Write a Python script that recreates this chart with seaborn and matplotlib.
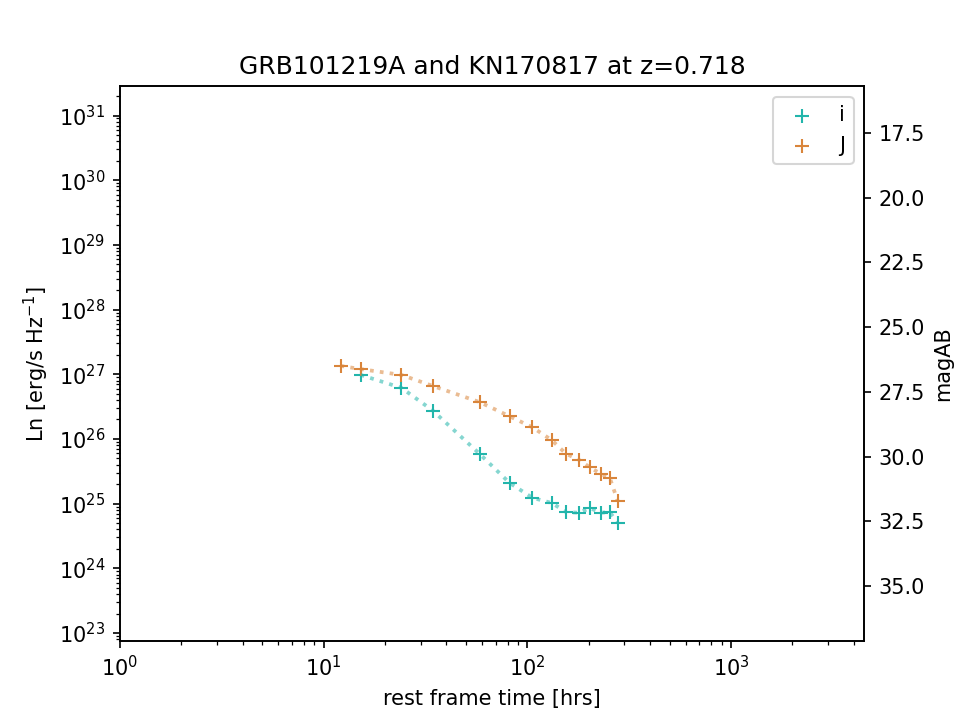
import numpy as np
import pandas as pd
import matplotlib
matplotlib.use("Agg")
import matplotlib.pyplot as plt
import seaborn as sns

# rest frame times [hrs] and luminosities
t_i = [15.2, 24.1, 34.3, 58.3, 81.9, 106, 132, 155, 179, 203, 230, 254, 278]
logL_i = [26.99, 26.79, 26.44, 25.77, 25.32, 25.09, 25.01, 24.87, 24.86, 24.93, 24.86, 24.87, 24.70]

t_J = [12.1, 15.2, 24.1, 34.3, 58.3, 81.9, 106, 132, 155, 179, 203, 230, 254, 278]
logL_J = [27.13, 27.08, 26.99, 26.82, 26.57, 26.35, 26.18, 25.98, 25.77, 25.68, 25.56, 25.46, 25.40, 25.04]

bands = ["i", "J"]
colors = {"i": "#22b5ab", "J": "#d9853b"}

# magAB = magzp - 2.5 log10(Ln)
magzp = 94.32
ylog_lim = (22.88, 31.45)

df = pd.concat([
    pd.DataFrame({"t": t_i, "Ln": 10 ** np.array(logL_i), "band": "i"}),
    pd.DataFrame({"t": t_J, "Ln": 10 ** np.array(logL_J), "band": "J"}),
])

fig, ax = plt.subplots(1, 1, figsize=(6.4, 4.8), dpi=150)
ax.set_xscale("log")
ax.set_yscale("log")

for b in bands:
    d = df[df.band == b]
    sns.lineplot(ax=ax, x=d.t.values, y=d.Ln.values, color=colors[b], linestyle=":",
                 linewidth=1.8, alpha=0.55, estimator=None, sort=False, legend=False)
    sns.scatterplot(ax=ax, x=d.t.values, y=d.Ln.values, color=colors[b], marker="+",
                    s=45, linewidth=1.0, label=b)

ax.set_xlim(1, 4500)
ax.set_ylim(10 ** ylog_lim[0], 10 ** ylog_lim[1])
ax.set_xlabel("rest frame time [hrs]")
ax.set_ylabel(r"Ln [erg/s Hz$^{-1}$]")
ax.set_title("GRB101219A and KN170817 at z=0.718")
ax.legend(loc="upper right")

ax2 = ax.twinx()
ax2.set_ylim(magzp - 2.5 * ylog_lim[0], magzp - 2.5 * ylog_lim[1])
ax2.set_ylabel("magAB")

fig.savefig("out.png")
